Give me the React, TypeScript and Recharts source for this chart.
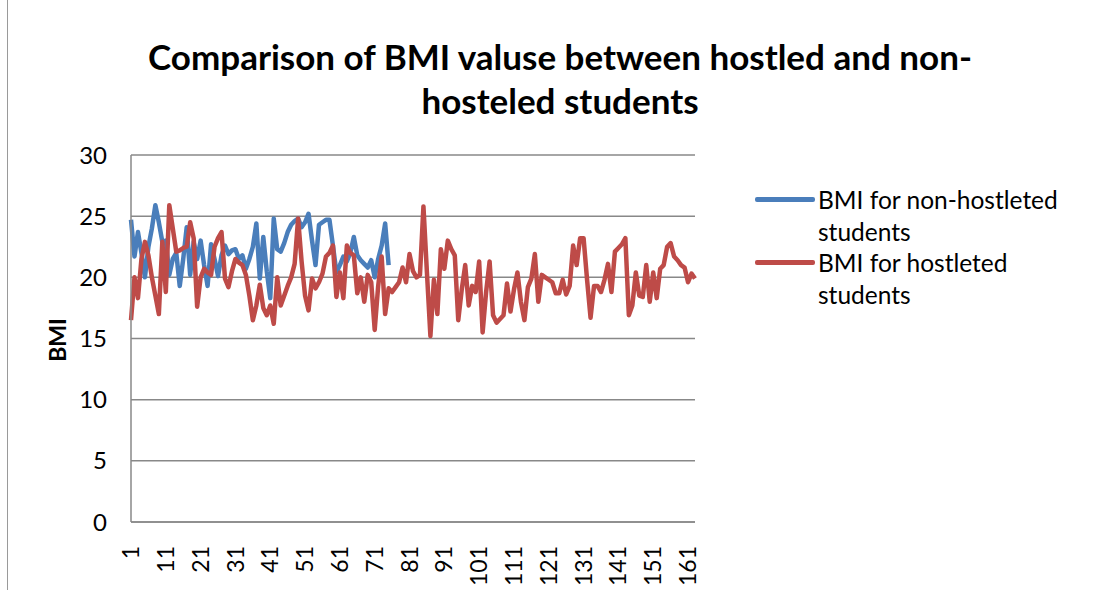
import { CartesianGrid, Line, LineChart, XAxis, YAxis } from 'recharts';

const FONT = 'Lato, "Open Sans", sans-serif';
const BLUE = '#4A7EBB';
const RED = '#BE4B48';

// BMI for non-hostleted students (75 students)
const nonHostel = [
  24.7, 21.7, 23.7, 22.0, 20.0, 22.5, 24.0, 25.9, 24.5, 22.9,
  23.0, 20.2, 21.5, 22.0, 19.3, 21.5, 24.1, 20.2, 22.9, 21.5,
  23.0, 21.0, 19.3, 22.7, 21.5, 20.1, 21.8, 22.6, 21.9, 22.2,
  22.3, 21.5, 21.8, 20.7, 21.5, 22.5, 24.4, 19.9, 23.3, 20.5,
  18.3, 24.8, 22.3, 22.1, 22.8, 23.7, 24.3, 24.6, 24.8, 24.1,
  24.5, 25.2, 23.0, 21.0, 24.3, 24.5, 24.7, 24.7, 22.6, 20.4,
  21.0, 21.7, 21.3, 22.0, 23.3, 21.8, 21.4, 21.1, 20.8, 21.4,
  20.0, 21.5, 22.6, 24.4, 21.0,
];

// BMI for hostleted students (163 students)
const hostel = [
  16.5, 20.0, 18.3, 21.5, 22.9, 21.8, 20.0, 18.5, 17.0, 22.9,
  18.8, 25.9, 24.0, 22.1, 22.2, 22.4, 22.5, 24.5, 23.2, 17.6,
  20.0, 20.7, 20.4, 20.2, 22.5, 23.2, 23.7, 19.9, 19.2, 20.5,
  21.5, 21.2, 21.0, 20.2, 18.5, 16.5, 17.7, 19.4, 17.5, 16.9,
  17.7, 16.2, 20.0, 17.7, 18.5, 19.3, 20.0, 21.1, 24.8, 21.3,
  18.5, 17.3, 19.9, 19.1, 19.6, 20.3, 21.7, 22.0, 22.6, 18.4,
  20.4, 18.3, 22.6, 22.0, 21.8, 18.7, 20.0, 18.0, 20.2, 19.6,
  15.7, 19.3, 21.7, 17.0, 19.1, 18.8, 19.2, 19.6, 20.8, 19.6,
  21.9, 20.5, 20.0, 20.2, 25.8, 20.4, 15.2, 19.8, 17.0, 22.3,
  20.7, 23.0, 22.3, 21.8, 16.5, 19.0, 21.0, 17.7, 19.3, 18.8,
  21.3, 15.5, 18.8, 21.3, 16.9, 16.3, 16.6, 16.9, 19.5, 17.2,
  19.0, 20.4, 18.0, 16.5, 19.2, 19.9, 21.9, 18.0, 20.2, 20.0,
  19.8, 19.6, 18.7, 18.7, 19.8, 18.6, 19.3, 22.6, 21.0, 23.2,
  23.2, 19.8, 16.7, 19.3, 19.3, 18.8, 19.8, 21.1, 18.8, 22.1,
  22.4, 22.7, 23.2, 16.9, 17.7, 20.4, 18.5, 18.4, 21.0, 18.0,
  20.4, 18.3, 20.7, 21.0, 22.5, 22.8, 21.7, 21.4, 21.0, 20.8,
  19.6, 20.3, 19.9,
];

const yTicks = [0, 5, 10, 15, 20, 25, 30];

const data = hostel.map((h, i) => ({
  n: i + 1,
  nonHostel: i < nonHostel.length ? nonHostel[i] : null,
  hostel: h,
}));

function XTick({ x, y, payload }: any) {
  return (
    <g transform={`translate(${x},${y + 16}) rotate(-90)`}>
      <text textAnchor="end" dy="0.35em" fontSize={23} fill="#000" fontFamily={FONT}>
        {payload.value}
      </text>
    </g>
  );
}

function LegendItem({ color, lines, top }: { color: string; lines: string[]; top: number }) {
  return (
    <div style={{ position: 'absolute', left: 755, top, display: 'flex' }}>
      <div style={{ width: 60, height: 5, background: color, marginTop: 13, borderRadius: 2 }} />
      <div style={{ marginLeft: 3, fontSize: 24.5, lineHeight: '32px', color: '#000' }}>
        {lines.map((l) => (
          <div key={l}>{l}</div>
        ))}
      </div>
    </div>
  );
}

export default function App() {
  return (
    <div
      style={{
        position: 'fixed',
        left: 0,
        top: 0,
        width: 1102,
        height: 590,
        background: '#fff',
        fontFamily: FONT,
        overflow: 'hidden',
      }}
    >
      <div style={{ position: 'absolute', left: 7, top: 0, width: 1, height: 590, background: '#9a9a9a' }} />
      <div
        style={{
          position: 'absolute',
          left: 0,
          top: 34,
          width: 1120,
          textAlign: 'center',
          fontWeight: 700,
          fontSize: 35,
          lineHeight: '44px',
          color: '#000',
        }}
      >
        Comparison of BMI valuse between hostled and non-
        <br />
        hosteled students
      </div>
      <div
        style={{
          position: 'absolute',
          left: 57,
          top: 340,
          transform: 'translate(-50%, -50%) rotate(-90deg)',
          fontWeight: 700,
          fontSize: 23,
          color: '#000',
        }}
      >
        BMI
      </div>
      <LineChart
        width={1102}
        height={590}
        data={data}
        margin={{ top: 155, right: 407, bottom: 0, left: 0 }}
        style={{ position: 'absolute', left: 0, top: 0 }}
      >
        <CartesianGrid vertical={false} stroke="#888" strokeWidth={1.5} />
        <XAxis
          dataKey="n"
          interval={9}
          tick={<XTick />}
          tickLine={false}
          axisLine={{ stroke: '#888', strokeWidth: 1.5 }}
          height={68}
        />
        <YAxis
          domain={[0, 30]}
          ticks={yTicks}
          width={131}
          tickLine={false}
          tickSize={0}
          tickMargin={24}
          axisLine={{ stroke: '#888', strokeWidth: 1.5 }}
          tick={{ fontSize: 24, fill: '#000', fontFamily: FONT }}
        />
        <Line
          dataKey="nonHostel"
          stroke={BLUE}
          strokeWidth={4.5}
          dot={false}
          isAnimationActive={false}
          strokeLinejoin="round"
        />
        <Line
          dataKey="hostel"
          stroke={RED}
          strokeWidth={4.5}
          dot={false}
          isAnimationActive={false}
          strokeLinejoin="round"
        />
      </LineChart>
      <LegendItem color={BLUE} lines={['BMI for non-hostleted', 'students']} top={184} />
      <LegendItem color={RED} lines={['BMI for hostleted', 'students']} top={247} />
    </div>
  );
}
